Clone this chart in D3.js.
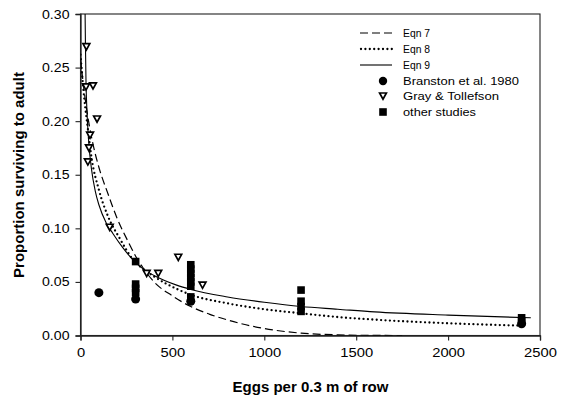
<!DOCTYPE html>
<html><head><meta charset="utf-8">
<script src="https://cdn.jsdelivr.net/npm/d3@7"></script>
<style>
body{margin:0;background:#fff}
svg{display:block}
text{font-family:"Liberation Sans",Arial,Helvetica,sans-serif;fill:#000}
</style>
</head><body>
<svg id="chart" width="568" height="400"></svg>
<script>
// ---- data ----
const xTicks = [0, 500, 1000, 1500, 2000, 2500];
const yTicks = [0.00, 0.05, 0.10, 0.15, 0.20, 0.25, 0.30];

// Eqn 7 (dashed)
const eqn7X = [0, 20, 40, 70, 100, 150, 200, 258, 300, 341, 400, 500, 600, 700, 800, 900, 1000, 1200, 1400, 1600, 1750];
const eqn7Y = [0.258, 0.228, 0.204, 0.177, 0.157, 0.132, 0.109, 0.088, 0.074, 0.063, 0.050, 0.037, 0.027, 0.020, 0.0145, 0.010, 0.0065, 0.0022, 0.0006, 0.0001, 0.0];
// Eqn 8 (dotted)
const eqn8X = [0, 20, 40, 59, 100, 150, 213, 287, 350, 400, 523, 600, 800, 1000, 1200, 1400, 1600, 2000, 2400];
const eqn8Y = [0.262, 0.222, 0.193, 0.167, 0.136, 0.111, 0.0907, 0.0705, 0.061, 0.055, 0.0435, 0.038, 0.030, 0.0245, 0.0207, 0.0172, 0.0148, 0.0114, 0.0092];
// Eqn 9 (solid)
const eqn9X = [25, 27, 30, 35, 45, 60, 80, 100, 140, 177, 230, 300, 350, 400, 523, 600, 800, 1000, 1200, 1400, 1600, 2000, 2450];
const eqn9Y = [0.30, 0.27, 0.236, 0.21, 0.18, 0.155, 0.135, 0.122, 0.105, 0.095, 0.082, 0.068, 0.061, 0.056, 0.047, 0.043, 0.036, 0.031, 0.027, 0.0245, 0.022, 0.019, 0.0165];

// Branston et al. 1980 (circles)
const branstonX = [100, 300, 600, 2400];
const branstonY = [0.040, 0.034, 0.032, 0.011];
// Gray & Tollefson (down triangles)
const grayX = [32, 30, 68, 90, 52, 46, 40, 159, 360, 423, 532, 664];
const grayY = [0.2695, 0.232, 0.233, 0.202, 0.187, 0.175, 0.162, 0.101, 0.058, 0.058, 0.073, 0.047];
// other studies (squares)
const otherX = [300, 300, 300, 300, 600, 600, 600, 600, 600, 600, 600, 1200, 1200, 1200, 1200, 2400, 2400];
const otherY = [0.069, 0.048, 0.044, 0.040, 0.066, 0.062, 0.058, 0.054, 0.050, 0.046, 0.036, 0.0424, 0.032, 0.027, 0.0225, 0.0165, 0.013];

const legendLabels = ["Eqn 7", "Eqn 8", "Eqn 9", "Branston et al. 1980", "Gray & Tollefson", "other studies"];
const xTitle = "Eggs per 0.3 m of row";
const yTitle = "Proportion surviving to adult";

// ---- drawing ----
const svg = d3.select("#chart");
const x = d3.scaleLinear().domain([0, 2500]).range([80.5, 540]);
const y = d3.scaleLinear().domain([0, 0.30]).range([335.5, 14]);

// clip
svg.append("clipPath").attr("id", "clip").append("rect")
  .attr("x", x(0)).attr("y", y(0.30)).attr("width", x(2500) - x(0)).attr("height", y(0) - y(0.30));

// frame (top/right)
svg.append("rect").attr("x", x(0)).attr("y", y(0.30)).attr("width", x(2500) - x(0)).attr("height", y(0) - y(0.30))
  .attr("fill", "none").attr("stroke", "#222").attr("stroke-width", 1.1);

// axes
const xAxis = d3.axisBottom(x).tickValues(xTicks).tickSize(5).tickPadding(8).tickFormat(d3.format("d"));
const yAxis = d3.axisLeft(y).tickValues(yTicks).tickSize(5).tickPadding(6).tickFormat(d3.format(".2f"));
const gx = svg.append("g").attr("transform", `translate(0,${y(0)})`).call(xAxis);
const gy = svg.append("g").attr("transform", `translate(${x(0)},0)`).call(yAxis);
[gx, gy].forEach(g => {
  g.select(".domain").attr("stroke", "#222").attr("stroke-width", 1.3);
  g.selectAll(".tick line").attr("stroke", "#222").attr("stroke-width", 1.1);
  g.selectAll(".tick text").attr("font-size", 12.5).attr("font-family", '"Liberation Sans",Arial,sans-serif').attr("fill", "#000");
});
gx.selectAll(".tick text").attr("dy", "0.71em");
function stretch(sel, f) {
  sel.each(function () {
    const w = this.getComputedTextLength();
    d3.select(this).attr("textLength", w * f).attr("lengthAdjust", "spacingAndGlyphs");
  });
}
stretch(gx.selectAll(".tick text"), 1.18);
stretch(gy.selectAll(".tick text"), 1.13);

// axis titles
svg.append("text").attr("x", 310.5).attr("y", 392).attr("text-anchor", "middle")
  .attr("font-size", 15).attr("font-weight", "bold").text(xTitle);
svg.append("text").attr("transform", "translate(24,175) rotate(-90)").attr("text-anchor", "middle")
  .attr("font-size", 15).attr("font-weight", "bold").text(yTitle);

// curves
const plot = svg.append("g").attr("clip-path", "url(#clip)");
function curve(xs, ys) {
  return d3.line().x(i => x(xs[i])).y(i => y(ys[i])).curve(d3.curveMonotoneX)(d3.range(xs.length));
}
plot.append("path").attr("d", curve(eqn7X, eqn7Y)).attr("fill", "none").attr("stroke", "#000")
  .attr("stroke-width", 1.2).attr("stroke-dasharray", "8,4");
plot.append("path").attr("d", curve(eqn8X, eqn8Y)).attr("fill", "none").attr("stroke", "#000")
  .attr("stroke-width", 2.3).attr("stroke-linecap", "round").attr("stroke-dasharray", "0,4.4");
plot.append("path").attr("d", curve(eqn9X, eqn9Y)).attr("fill", "none").attr("stroke", "#000")
  .attr("stroke-width", 1.1);

// markers
const tri = "M-3.4,-3L3.4,-3L0,3.2Z";
plot.append("g").selectAll("rect").data(d3.range(otherX.length)).join("rect")
  .attr("x", i => x(otherX[i]) - 3.8).attr("y", i => y(otherY[i]) - 3.8)
  .attr("width", 7.6).attr("height", 7.6).attr("fill", "#000");
plot.append("g").selectAll("circle").data(d3.range(branstonX.length)).join("circle")
  .attr("cx", i => x(branstonX[i])).attr("cy", i => y(branstonY[i])).attr("r", 4.5).attr("fill", "#000");
plot.append("g").selectAll("path").data(d3.range(grayX.length)).join("path")
  .attr("transform", i => `translate(${x(grayX[i])},${y(grayY[i])})`)
  .attr("d", tri).attr("fill", "#fff").attr("stroke", "#000").attr("stroke-width", 1.7).attr("stroke-linejoin", "miter");

// legend
const lg = svg.append("g");
const rowY = [33, 49, 65, 81, 96, 112];
const textW = [27, 27, 27, 116, 96, 73];
const lx0 = 360, lx1 = 392, sx = 383, tx = 403;
lg.append("line").attr("x1", lx0).attr("x2", lx1).attr("y1", rowY[0]).attr("y2", rowY[0])
  .attr("stroke", "#000").attr("stroke-width", 1.2).attr("stroke-dasharray", "8,4");
lg.append("line").attr("x1", lx0 + 1).attr("x2", lx1).attr("y1", rowY[1]).attr("y2", rowY[1])
  .attr("stroke", "#000").attr("stroke-width", 2.3).attr("stroke-linecap", "round").attr("stroke-dasharray", "0,4.4");
lg.append("line").attr("x1", lx0).attr("x2", lx1).attr("y1", rowY[2]).attr("y2", rowY[2])
  .attr("stroke", "#000").attr("stroke-width", 1.1);
lg.append("circle").attr("cx", sx).attr("cy", rowY[3]).attr("r", 4.2).attr("fill", "#000");
lg.append("path").attr("transform", `translate(${sx},${rowY[4]})`).attr("d", tri)
  .attr("fill", "#fff").attr("stroke", "#000").attr("stroke-width", 1.7);
lg.append("rect").attr("x", sx - 3.8).attr("y", rowY[5] - 3.8).attr("width", 7.6).attr("height", 7.6).attr("fill", "#000");
lg.selectAll("text").data(legendLabels).join("text")
  .attr("x", tx).attr("y", (d, i) => rowY[i] + 3.8).attr("font-size", 10.5)
  .attr("textLength", (d, i) => textW[i]).attr("lengthAdjust", "spacingAndGlyphs")
  .text(d => d);
</script>
</body></html>
